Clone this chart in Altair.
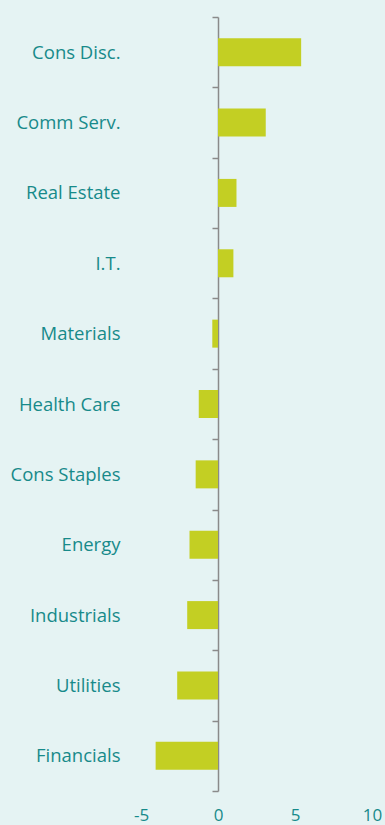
import altair as alt
import pandas as pd

categories = ["Cons Disc.", "Comm Serv.", "Real Estate", "I.T.", "Materials",
              "Health Care", "Cons Staples", "Energy", "Industrials", "Utilities", "Financials"]
values = [5.4, 3.1, 1.2, 1.0, -0.37, -1.25, -1.45, -1.85, -2.0, -2.65, -4.05]
x_ticks = [-5, 0, 5, 10]

df = pd.DataFrame({"sector": categories, "value": values})

TEXT = "#178a8a"
BAR = "#c3cf23"
BG = "#e5f3f3"
AXIS = "#8a8a8a"
FONT = "Open Sans"

chart = alt.Chart(df).mark_bar(color=BAR, size=28).encode(
    x=alt.X("value:Q",
            scale=alt.Scale(domain=[-5, 10], nice=False, zero=False),
            axis=alt.Axis(values=x_ticks, title=None, domain=False, ticks=False, grid=False,
                          labelExpr="'' + datum.value",
                          labelColor=TEXT, labelFont=FONT, labelFontSize=17,
                          labelPadding=16, labelFlush=False)),
    y=alt.Y("sector:N", sort=categories,
            scale=alt.Scale(paddingInner=0, paddingOuter=0),
            axis=alt.Axis(title=None, offset=-77, tickBand="extent", tickSize=6,
                          tickColor=AXIS, domainColor=AXIS, tickWidth=1.5, domainWidth=1.5,
                          labelColor=TEXT, labelFont=FONT, labelFontSize=18.5,
                          labelPadding=92, grid=False)),
).properties(
    width=231, height=774,
    autosize=alt.AutoSizeParams(type="none"),
    padding={"left": 141, "top": 17, "right": 13, "bottom": 34},
    background=BG,
).configure_view(stroke=None)

chart.save("out.html", embed_options={"renderer": "svg", "actions": False})
